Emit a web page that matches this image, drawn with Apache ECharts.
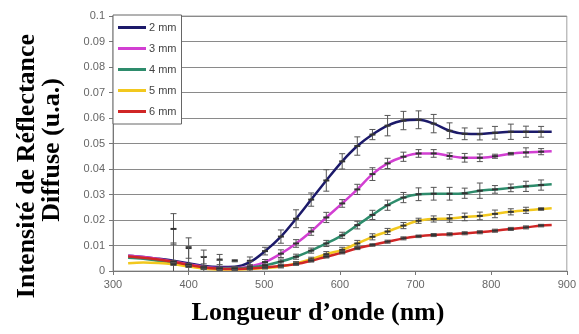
<!DOCTYPE html>
<html>
<head>
<meta charset="utf-8">
<script src="https://cdn.jsdelivr.net/npm/echarts@6/dist/echarts.min.js"></script>
<style>
html,body{margin:0;padding:0;background:#fff;}
#chart{width:579px;height:334px;}
</style>
</head>
<body>
<div id="chart"></div>
<script>
// Wavelengths (nm) of the curve points
const wavelengths = [320, 340, 360, 380, 400, 420, 441, 461, 481, 501, 522, 542, 562, 582, 603, 623, 643, 663, 684, 704, 724, 745, 765, 785, 805, 826, 846, 866, 880];
const seriesNames = ['2 mm', '3 mm', '4 mm', '5 mm', '6 mm'];
const v2mm = [0.006, 0.0055, 0.0048, 0.004, 0.003, 0.002, 0.0016, 0.0017, 0.0035, 0.0078, 0.0135, 0.0205, 0.028, 0.0355, 0.043, 0.049, 0.0535, 0.057, 0.059, 0.0593, 0.0578, 0.055, 0.0538, 0.0537, 0.0542, 0.0546, 0.0546, 0.0546, 0.0546];
const v3mm = [0.006, 0.0055, 0.0047, 0.0037, 0.0026, 0.0017, 0.0012, 0.0012, 0.0018, 0.0035, 0.0068, 0.0108, 0.0155, 0.021, 0.0265, 0.032, 0.038, 0.0422, 0.0448, 0.0461, 0.0461, 0.0451, 0.0444, 0.0444, 0.045, 0.046, 0.0465, 0.0468, 0.047];
const v4mm = [0.0052, 0.0048, 0.004, 0.0032, 0.0022, 0.0014, 0.001, 0.001, 0.0014, 0.0022, 0.0037, 0.0056, 0.008, 0.0108, 0.014, 0.018, 0.022, 0.0258, 0.0288, 0.0301, 0.0303, 0.0303, 0.0305, 0.0315, 0.032, 0.0326, 0.0332, 0.0337, 0.034];
const v5mm = [0.003, 0.0033, 0.0031, 0.0026, 0.0018, 0.001, 0.0006, 0.0006, 0.0008, 0.0012, 0.0018, 0.003, 0.0046, 0.0066, 0.0083, 0.0108, 0.0134, 0.0155, 0.0178, 0.0197, 0.0204, 0.0206, 0.0212, 0.0216, 0.0224, 0.0232, 0.0238, 0.0243, 0.0246];
const v6mm = [0.0057, 0.0052, 0.0045, 0.0036, 0.0024, 0.0014, 0.0009, 0.0008, 0.001, 0.0014, 0.002, 0.0027, 0.004, 0.0056, 0.0072, 0.0089, 0.0102, 0.0115, 0.0128, 0.0136, 0.0141, 0.0144, 0.0148, 0.0152, 0.0158, 0.0165, 0.0171, 0.0178, 0.018];
// Error bars: from wavelength index 3 (380 nm) to index 27 (866 nm)
const barStart = 3;
const err2mm = [0.006, 0.004, 0.0027, 0.002, 0.0004, 0.0015, 0.0015, 0.0026, 0.0035, 0.0026, 0.0042, 0.003, 0.0036, 0.002, 0.004, 0.0036, 0.0035, 0.0036, 0.0031, 0.0023, 0.0023, 0.0025, 0.003, 0.0022, 0.0021];
// raw means of the 2 mm error bars in the noisy region (380-481 nm)
const raw2mm = [0.0165, 0.009, 0.0055, 0.0045, 0.004, 0.004];
const err3mm = [0.0073, 0.007, 0.004, 0.003, 0.0005, 0.002, 0.001, 0.0015, 0.0015, 0.0015, 0.002, 0.0015, 0.002, 0.0025, 0.002, 0.0018, 0.0015, 0.0015, 0.0012, 0.0017, 0.0015, 0.0008, 0.0005, 0.0018, 0.0012];
const err4mm = [0.0005, 0.0005, 0.0005, 0.0005, 0.0005, 0.0005, 0.0005, 0.001, 0.001, 0.001, 0.0012, 0.0012, 0.0015, 0.0018, 0.002, 0.002, 0.0025, 0.0025, 0.0025, 0.002, 0.003, 0.0015, 0.0015, 0.002, 0.002];
const err5mm = [0.0004, 0.0004, 0.0004, 0.0004, 0.0004, 0.0004, 0.0004, 0.0006, 0.0007, 0.0008, 0.001, 0.001, 0.0012, 0.0012, 0.0012, 0.0012, 0.001, 0.0012, 0.0015, 0.0015, 0.0015, 0.0015, 0.0012, 0.0012, 0.0005];
const err6mm = [0.0003, 0.0003, 0.0003, 0.0003, 0.0003, 0.0003, 0.0003, 0.0004, 0.0004, 0.0005, 0.0005, 0.0005, 0.0005, 0.0005, 0.0006, 0.0006, 0.0005, 0.0006, 0.0006, 0.0006, 0.0006, 0.0006, 0.0006, 0.0006, 0.0005];
const xTicks = [300, 400, 500, 600, 700, 800, 900];
const yTicks = [0, 0.01, 0.02, 0.03, 0.04, 0.05, 0.06, 0.07, 0.08, 0.09, 0.1];
const xTitle = 'Longueur d\u2019onde (nm)';
const yTitle1 = 'Intensit\u00e9 de R\u00e9flectance';
const yTitle2 = 'Diffuse (u.a.)';

const colors = ['#1c1a6a', '#d23fd2', '#2e8c6c', '#f2c81e', '#d02626'];
const values = [v2mm, v3mm, v4mm, v5mm, v6mm];
const errs = [err2mm, err3mm, err4mm, err5mm, err6mm];

const lineSeries = values.map((vals, i) => ({
  name: seriesNames[i],
  type: 'line',
  smooth: 0.35,
  symbol: 'none',
  z: 2,
  color: colors[i],
  lineStyle: { width: 2.5, color: colors[i] },
  data: wavelengths.map((w, k) => [w, vals[k]])
}));

function errData(i) {
  const out = [];
  errs[i].forEach((e, k) => {
    const idx = barStart + k;
    let mean = values[i][idx];
    if (i === 0 && k < raw2mm.length) mean = raw2mm[k];
    out.push([wavelengths[idx], mean, e]);
  });
  return out;
}

function renderErr(params, api) {
  const x = api.value(0), y = api.value(1), e = api.value(2);
  const c = api.coord([x, y]);
  const t = api.coord([x, y + e]);
  const b = api.coord([x, Math.max(0, y - e)]);
  const st = { stroke: '#555', lineWidth: 1 };
  const cap = 3;
  const children = [
    { type: 'line', shape: { x1: t[0], y1: t[1], x2: b[0], y2: b[1] }, style: st },
    { type: 'line', shape: { x1: t[0] - cap, y1: t[1], x2: t[0] + cap, y2: t[1] }, style: st },
    { type: 'line', shape: { x1: c[0] - 3, y1: c[1], x2: c[0] + 3, y2: c[1] }, style: { stroke: '#333', lineWidth: 2 } }
  ];
  if (y - e > 0) children.push({ type: 'line', shape: { x1: b[0] - cap, y1: b[1], x2: b[0] + cap, y2: b[1] }, style: st });
  return { type: 'group', children };
}

const errSeries = values.map((v, i) => ({
  type: 'custom',
  name: seriesNames[i] + ' err',
  z: 3,
  silent: true,
  clip: true,
  renderItem: renderErr,
  encode: { x: 0, y: 1 },
  data: errData(i)
}));

const chart = echarts.init(document.getElementById('chart'), null, { renderer: 'canvas' });
chart.setOption({
  animation: false,
  backgroundColor: '#fff',
  grid: { left: 113, right: 12, top: 16, bottom: 63, show: true, borderColor: '#a0a0a0', borderWidth: 1, backgroundColor: 'transparent' },
  legend: {
    data: seriesNames.map(n => ({ name: n, icon: 'rect' })),
    orient: 'vertical',
    left: 113, top: 15,
    itemWidth: 28, itemHeight: 3, itemGap: 10,
    padding: [7, 5, 7, 5],
    backgroundColor: '#fff',
    borderColor: '#666', borderWidth: 1, borderRadius: 0,
    textStyle: { fontFamily: 'Liberation Sans, Arial', fontSize: 11, color: '#444', padding: [0, 0, 0, -2] }
  },
  xAxis: {
    type: 'value', min: xTicks[0], max: xTicks[xTicks.length - 1], interval: 100,
    axisLine: { show: true, lineStyle: { color: '#777' } },
    axisTick: { show: true, inside: false, length: 4, lineStyle: { color: '#777' } },
    axisLabel: { color: '#666', fontFamily: 'Liberation Sans, Arial', fontSize: 11, margin: 8 },
    splitLine: { show: false }
  },
  yAxis: {
    type: 'value', min: yTicks[0], max: yTicks[yTicks.length - 1], interval: 0.01,
    axisLine: { show: true, lineStyle: { color: '#777' } },
    axisTick: { show: true, inside: false, length: 4, lineStyle: { color: '#777' } },
    axisLabel: { color: '#666', fontFamily: 'Liberation Sans, Arial', fontSize: 11, margin: 8,
      formatter: v => String(parseFloat(v.toFixed(2))) },
    splitLine: { show: true, lineStyle: { color: '#8a8a8a', width: 1 } }
  },
  graphic: [
    { type: 'text', x: 318, y: 313, style: { text: xTitle, align: 'center', verticalAlign: 'middle', font: 'bold 26px "Liberation Serif", "Times New Roman", serif', fill: '#000' } },
    { type: 'text', x: 27, y: 166, rotation: Math.PI / 2, style: { text: yTitle1, align: 'center', verticalAlign: 'middle', font: 'bold 26px "Liberation Serif", "Times New Roman", serif', fill: '#000' } },
    { type: 'text', x: 52, y: 150, rotation: Math.PI / 2, style: { text: yTitle2, align: 'center', verticalAlign: 'middle', font: 'bold 26px "Liberation Serif", "Times New Roman", serif', fill: '#000' } }
  ],
  series: lineSeries.concat(errSeries)
});
</script>
</body>
</html>
